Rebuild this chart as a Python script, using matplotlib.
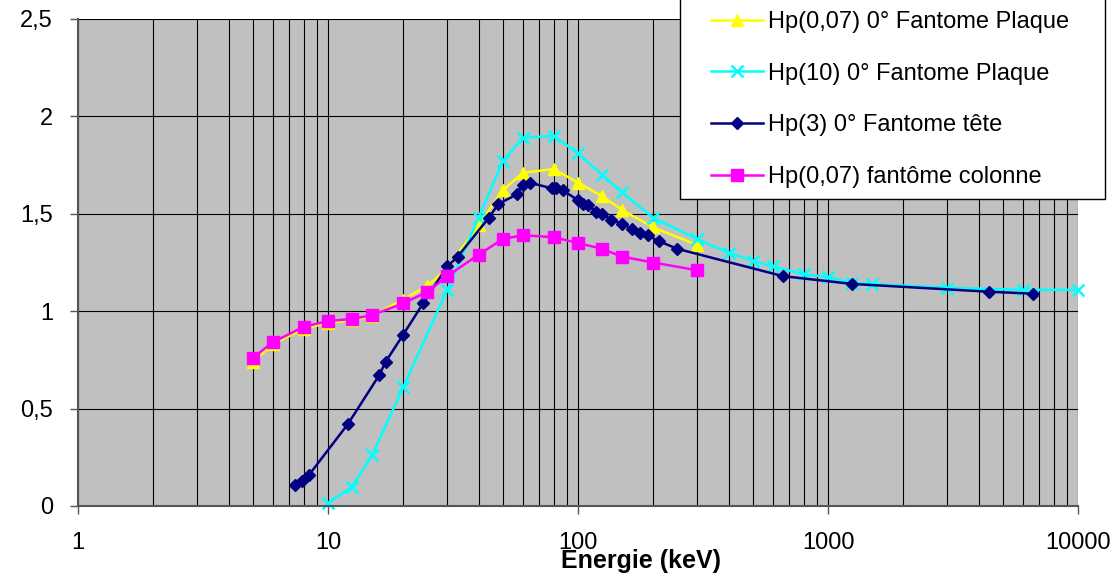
import numpy as np
import matplotlib
matplotlib.use("Agg")
import matplotlib.pyplot as plt
from matplotlib.patches import Rectangle

plt.rcParams["font.family"] = ["Liberation Sans", "DejaVu Sans"]

# Hp(0,07) 0° Fantome Plaque
plaque007_e = [5, 6, 8, 10, 12.5, 15, 20, 25, 30, 40, 50, 60, 80, 100, 125, 150, 200, 300]
plaque007_v = [0.74, 0.83, 0.91, 0.94, 0.955, 0.975, 1.06, 1.13, 1.22, 1.44, 1.62, 1.71,
               1.73, 1.66, 1.59, 1.52, 1.43, 1.34]

# Hp(10) 0° Fantome Plaque
plaque10_e = [10, 12.5, 15, 20, 30, 40, 50, 60, 80, 100, 125, 150, 200, 300, 400, 500,
              600, 800, 1000, 1250, 1500, 3000, 6000, 10000]
plaque10_v = [0.015, 0.10, 0.26, 0.61, 1.11, 1.48, 1.77, 1.89, 1.90, 1.81, 1.70, 1.61,
              1.48, 1.37, 1.30, 1.26, 1.23, 1.19, 1.175, 1.145, 1.14, 1.12, 1.11, 1.11]

# Hp(3) 0° Fantome tête
tete3_e = [7.4, 7.9, 8.4, 12, 16, 17, 20, 24, 30, 33, 44, 48, 57, 60, 64, 79, 82, 87,
           100, 105, 110, 118, 125, 135, 150, 165, 177, 190, 210, 250, 660, 1250, 4400, 6600]
tete3_v = [0.11, 0.13, 0.16, 0.42, 0.67, 0.74, 0.88, 1.04, 1.23, 1.28, 1.48, 1.55, 1.60,
           1.65, 1.66, 1.63, 1.63, 1.62, 1.57, 1.55, 1.545, 1.51, 1.50, 1.47, 1.45, 1.42,
           1.40, 1.39, 1.36, 1.32, 1.18, 1.14, 1.10, 1.09]

# Hp(0,07) fantôme colonne
colonne_e = [5, 6, 8, 10, 12.5, 15, 20, 25, 30, 40, 50, 60, 80, 100, 125, 150, 200, 300]
colonne_v = [0.76, 0.84, 0.92, 0.95, 0.96, 0.98, 1.04, 1.10, 1.18, 1.29, 1.37, 1.39,
             1.38, 1.35, 1.32, 1.28, 1.25, 1.21]

x_ticks = [1, 10, 100, 1000, 10000]
x_labels = ["1", "10", "100", "1000", "10000"]
y_ticks = [0, 0.5, 1, 1.5, 2, 2.5]
y_labels = ["0", "0,5", "1", "1,5", "2", "2,5"]

W, H = 1117, 577
fig = plt.figure(figsize=(W / 100, H / 100), dpi=100)
ax = fig.add_axes([78 / W, (H - 506) / H, 1000 / W, 487 / H])
ax.set_facecolor("#C0C0C0")

ax.plot(plaque007_e, plaque007_v, color="#FFFF00", lw=1.8, marker="^", ms=9,
        clip_on=False, label="Hp(0,07) 0° Fantome Plaque")
ax.plot(plaque10_e, plaque10_v, color="#00FFFF", lw=1.8, marker="x", ms=8.5, mew=1.8,
        clip_on=False, label="Hp(10) 0° Fantome Plaque")
ax.plot(tete3_e, tete3_v, color="#000080", lw=1.8, marker="D", ms=5.8,
        clip_on=False, label="Hp(3) 0° Fantome tête")
ax.plot(colonne_e, colonne_v, color="#FF00FF", lw=1.8, marker="s", ms=9,
        clip_on=False, label="Hp(0,07) fantôme colonne")

ax.set_xscale("log")
ax.set_xlim(1, 10000)
ax.set_ylim(0, 2.5)
ax.set_xticks(x_ticks)
ax.set_xticklabels(x_labels)
ax.set_yticks(y_ticks)
ax.set_yticklabels(y_labels)
ax.xaxis.set_minor_locator(matplotlib.ticker.LogLocator(base=10, subs=np.arange(2, 10)))
ax.xaxis.set_minor_formatter(matplotlib.ticker.NullFormatter())
ax.tick_params(axis="x", which="minor", length=0)
ax.tick_params(axis="both", which="major", labelsize=17, length=6, width=1,
               color="#555555")
ax.tick_params(axis="x", pad=13)
ax.tick_params(axis="y", pad=12)

ax.grid(True, axis="x", which="both", color="black", lw=0.8)
ax.grid(True, axis="y", which="major", color="black", lw=0.8)
ax.set_axisbelow(True)
for s in ["top", "right"]:
    ax.spines[s].set_visible(False)
for s in ["left", "bottom"]:
    ax.spines[s].set_color("#555555")
    ax.spines[s].set_linewidth(1.5)

fig.text(641 / W, 1 - 561 / H, "Energie (keV)", ha="center", va="center",
         fontsize=18, fontweight="bold")

# legend box
box = Rectangle((680 / W, 1 - 199 / H), 425 / W, 215 / H, transform=fig.transFigure,
                facecolor="white", edgecolor="black", lw=1, zorder=4)
fig.patches.append(box)
fig.legend(loc="upper left", bbox_to_anchor=(711 / W, 1 - 11 / H), frameon=False,
           fontsize=17, numpoints=1, handlelength=2.2, handletextpad=0.21,
           labelspacing=1.26, borderpad=0, borderaxespad=0)

fig.savefig("out.png", dpi=100)
